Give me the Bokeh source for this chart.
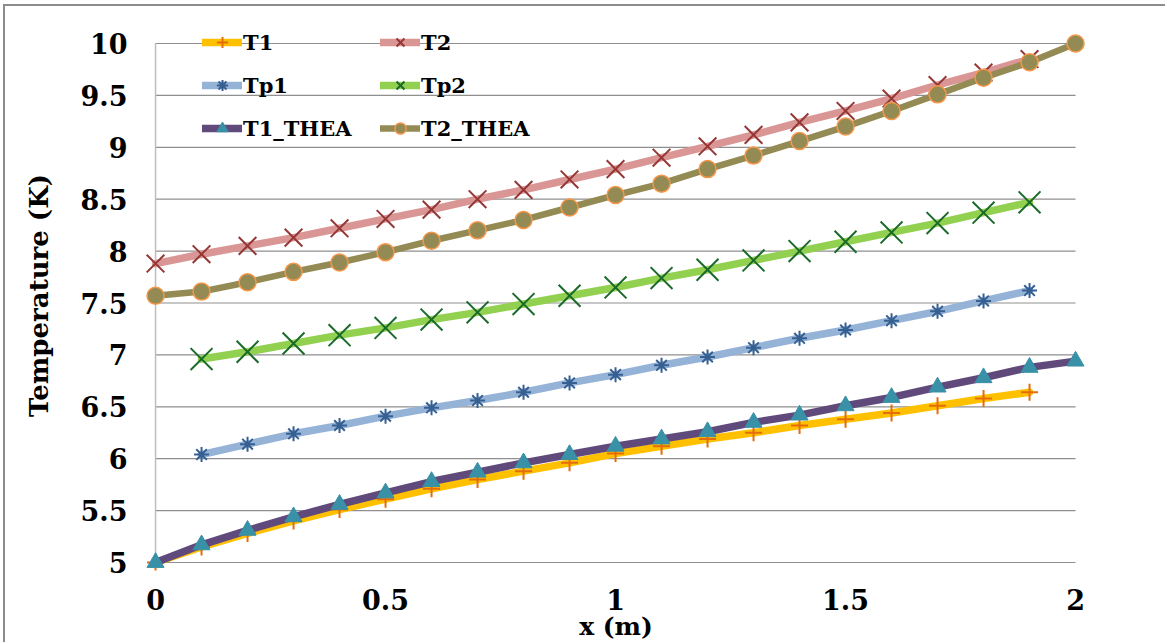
from bokeh.plotting import figure
from bokeh.models import Range1d, FixedTicker, Legend, LegendItem, ColumnDataSource
from bokeh.embed import file_html
from bokeh.resources import INLINE

FONT = "DejaVu Serif"

# ---------------- data ----------------
x_full = [0.0, 0.1, 0.2, 0.3, 0.4, 0.5, 0.6, 0.7, 0.8, 0.9, 1.0,
          1.1, 1.2, 1.3, 1.4, 1.5, 1.6, 1.7, 1.8, 1.9, 2.0]
x_t = [0.0, 0.1, 0.2, 0.3, 0.4, 0.5, 0.6, 0.7, 0.8, 0.9, 1.0,
       1.1, 1.2, 1.3, 1.4, 1.5, 1.6, 1.7, 1.8, 1.9]
x_p = [0.1, 0.2, 0.3, 0.4, 0.5, 0.6, 0.7, 0.8, 0.9, 1.0,
       1.1, 1.2, 1.3, 1.4, 1.5, 1.6, 1.7, 1.8, 1.9]

T1 = [5.00, 5.15, 5.28, 5.40, 5.51, 5.61, 5.71, 5.80, 5.88, 5.96, 6.05,
      6.12, 6.19, 6.25, 6.32, 6.38, 6.44, 6.51, 6.58, 6.64]
T2 = [7.88, 7.97, 8.05, 8.13, 8.22, 8.31, 8.40, 8.50, 8.59, 8.69, 8.79,
      8.90, 9.01, 9.12, 9.24, 9.35, 9.47, 9.60, 9.72, 9.85]
Tp1 = [6.04, 6.14, 6.24, 6.32, 6.41, 6.49, 6.56, 6.64, 6.73, 6.81,
       6.90, 6.98, 7.07, 7.16, 7.24, 7.33, 7.42, 7.52, 7.62]
Tp2 = [6.96, 7.03, 7.11, 7.19, 7.26, 7.34, 7.41, 7.49, 7.57, 7.65,
       7.74, 7.82, 7.91, 8.00, 8.09, 8.18, 8.27, 8.37, 8.47]
T1_THEA = [5.00, 5.17, 5.31, 5.44, 5.56, 5.67, 5.78, 5.87, 5.96, 6.04, 6.12,
           6.19, 6.26, 6.35, 6.42, 6.51, 6.59, 6.69, 6.78, 6.88, 6.94]
T2_THEA = [7.57, 7.61, 7.70, 7.80, 7.89, 7.99, 8.10, 8.20, 8.30, 8.42, 8.54,
           8.65, 8.79, 8.92, 9.06, 9.20, 9.35, 9.51, 9.67, 9.82, 10.00]

x_ticks = [0, 0.5, 1, 1.5, 2]
x_tick_labels = ["0", "0.5", "1", "1.5", "2"]
y_ticks = [5, 5.5, 6, 6.5, 7, 7.5, 8, 8.5, 9, 9.5, 10]
y_tick_labels = ["5", "5.5", "6", "6.5", "7", "7.5", "8", "8.5", "9", "9.5", "10"]

# ---------------- figure ----------------
p = figure(width=1162, height=638,
           x_range=Range1d(-0.024, 2.026), y_range=Range1d(4.923, 10.2216),
           output_backend="svg", toolbar_location=None,
           min_border_left=139, min_border_right=80,
           min_border_top=14, min_border_bottom=74)
p.styles = {"border-left": "2px solid #8c8c8c", "border-top": "2px solid #8c8c8c",
            "margin-left": "3px", "margin-top": "4px"}
p.background_fill_color = "white"
p.border_fill_color = "white"
p.outline_line_color = None
p.xgrid.visible = False
p.ygrid.visible = False

# gridlines & vertical axis line (built from the tick arrays)
grid_src = ColumnDataSource(dict(
    x0=[x_ticks[0]] * len(y_ticks), x1=[x_ticks[-1]] * len(y_ticks),
    y=y_ticks))
p.segment(x0="x0", x1="x1", y0="y", y1="y", source=grid_src,
          line_color="#8f8f8f", line_width=1.2)
p.segment(x0=[x_ticks[0]], x1=[x_ticks[0]], y0=[y_ticks[0]], y1=[y_ticks[-1]],
          line_color="#bdbdbd", line_width=1.5)

# axes
for ax in (p.xaxis[0], p.yaxis[0]):
    ax.axis_line_color = None
    ax.major_tick_line_color = None
    ax.minor_tick_line_color = None
    ax.major_tick_out = 0
    ax.major_tick_in = 0
    ax.major_label_text_font = FONT
    ax.major_label_text_font_style = "bold"
    ax.major_label_text_color = "black"
    ax.axis_label_text_font = FONT
    ax.axis_label_text_font_style = "bold"
    ax.axis_label_text_color = "black"

p.xaxis.ticker = FixedTicker(ticks=x_ticks, minor_ticks=[])
p.xaxis.major_label_overrides = dict(zip(x_ticks, x_tick_labels))
p.xaxis.major_label_text_font_size = "27px"
p.xaxis.major_label_standoff = 18
p.xaxis.axis_label = "x (m)"
p.xaxis.axis_label_text_font_size = "25px"
p.xaxis.axis_label_standoff = -1

p.yaxis.ticker = FixedTicker(ticks=y_ticks, minor_ticks=[])
p.yaxis.major_label_overrides = dict(zip(y_ticks, y_tick_labels))
p.yaxis.major_label_text_font_size = "27px"
p.yaxis.major_label_standoff = 17
p.yaxis.axis_label = "Temperature (K)"
p.yaxis.axis_label_text_font_size = "26px"
p.yaxis.axis_label_standoff = 24

# ---------------- series ----------------
series = [
    ("T1", x_t, T1, "#FFC000", 7.5, "cross", 17, "#E46C0A", "#E46C0A", 2),
    ("T2", x_t, T2, "#D99694", 7.5, "x", 25, "#953735", "#953735", 2),
    ("Tp1", x_p, Tp1, "#95B3D7", 7.5, "asterisk", 15, "#376092", "#376092", 2),
    ("Tp2", x_p, Tp2, "#92D050", 7.5, "x", 31, "#1A6A2A", "#1A6A2A", 2),
    ("T1_THEA", x_full, T1_THEA, "#604A7B", 7.5, "triangle", 17, "#3891A7", "#3891A7", 1),
    ("T2_THEA", x_full, T2_THEA, "#948A54", 6.5, "circle", 17, "#F79646", "#948A54", 1.5),
]

items = []
for name, xs, ys, lc, lw, mk, ms, mlc, mfc, mlw in series:
    src = ColumnDataSource(dict(x=xs, y=ys))
    rl = p.line("x", "y", source=src, line_color=lc, line_width=lw,
                line_join="round", line_cap="round")
    rm = p.scatter("x", "y", source=src, marker=mk, size=ms,
                   line_color=mlc, fill_color=mfc, line_width=mlw)
    items.append(LegendItem(label=name, renderers=[rl, rm]))

legend = Legend(items=items, location=(58, 428), orientation="horizontal", ncols=2,
                glyph_width=40, glyph_height=28, label_height=28, label_width=122,
                label_standoff=1, spacing=15, padding=5, margin=0,
                background_fill_alpha=0, border_line_color=None,
                label_text_font=FONT, label_text_font_style="bold",
                label_text_font_size="21px", label_text_color="black")
p.add_layout(legend)

open("out.html", "w").write(file_html(p, INLINE))
